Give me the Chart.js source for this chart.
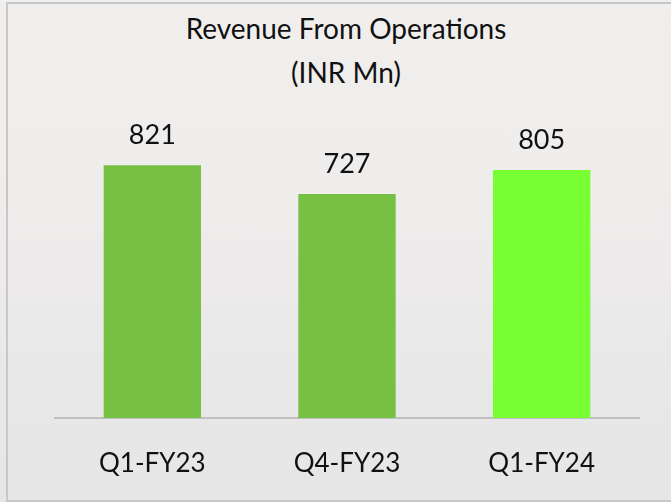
<!DOCTYPE html>
<html>
<head>
<meta charset="utf-8">
<script src="https://cdn.jsdelivr.net/npm/chart.js@4"></script>
<style>
  html, body { margin:0; padding:0; width:671px; height:502px; overflow:hidden; }
  body {
    background: linear-gradient(180deg, #f1efee 0%, #efedec 40%, #e9e8e8 75%, #e6e6e6 100%);
    position: relative;
    font-family: Lato, "Open Sans", sans-serif;
  }
  #frame { position:absolute; left:6px; top:2px; width:700px; height:496px; border:2px solid #c8c8c8; box-sizing:content-box; }
  #title { position:absolute; left:0; width:692px; top:5.5px; text-align:center; font-size:28px; line-height:44px; color:#111; }
  canvas { position:absolute; left:0; top:0; }
</style>
</head>
<body>
<div id="frame"></div>
<div id="title">Revenue From Operations<br>(INR Mn)</div>
<canvas id="c" width="671" height="502"></canvas>
<script>
const categories = ["Q1-FY23", "Q4-FY23", "Q1-FY24"];
const revenue = [821, 727, 805];
const barColors = ["#76c043", "#76c043", "#77ff33"];

const valueLabels = {
  id: 'valueLabels',
  afterDatasetsDraw(chart) {
    const ctx = chart.ctx;
    const meta = chart.getDatasetMeta(0);
    ctx.save();
    ctx.font = '27px Lato';
    ctx.fillStyle = '#111';
    ctx.textAlign = 'center';
    ctx.textBaseline = 'alphabetic';
    meta.data.forEach((bar, i) => {
      ctx.fillText(String(chart.data.datasets[0].data[i]), bar.x, bar.y - 21);
    });
    ctx.restore();
  }
};

new Chart(document.getElementById('c'), {
  type: 'bar',
  data: {
    labels: categories,
    datasets: [{
      data: revenue,
      backgroundColor: barColors,
      borderWidth: 0,
      barPercentage: 0.5,
      categoryPercentage: 1.0
    }]
  },
  options: {
    responsive: false,
    animation: false,
    devicePixelRatio: 1,
    layout: { padding: { left: 55, right: 32, top: 110, bottom: 0 } },
    plugins: { legend: { display: false }, tooltip: { enabled: false }, title: { display: false } },
    scales: {
      x: {
        grid: { display: false, drawTicks: false },
        border: { display: true, color: '#c0c0c0', width: 2 },
        ticks: { color: '#111', font: { family: 'Lato', size: 26 }, padding: 30 },
        afterFit(scale) { scale.height = 84; }
      },
      y: {
        display: false,
        min: 0,
        max: 1000
      }
    }
  },
  plugins: [valueLabels]
});
</script>
</body>
</html>
